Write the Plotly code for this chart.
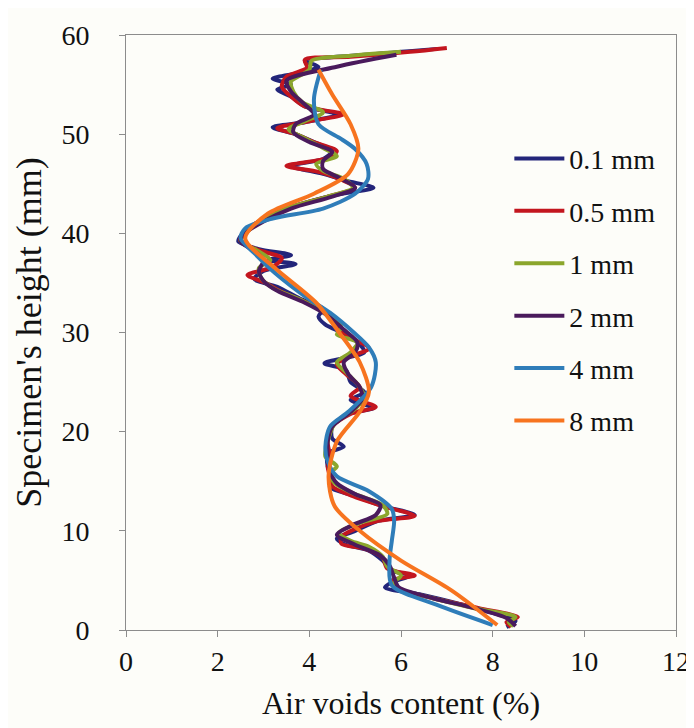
import plotly.graph_objects as go

# ---------------- data ----------------
series_names = ["0.1 mm", "0.5 mm", "1 mm", "2 mm", "4 mm", "8 mm"]

h_01 = [58.6, 58.0, 57.4, 56.8, 56.2, 55.6, 55.0, 54.5, 53.8, 52.8, 52.0, 51.2, 50.7, 50.0, 49.2, 48.3,
        47.5, 46.8, 46.0, 45.3, 44.6, 43.8, 42.5, 41.2, 40.0, 39.2, 38.4, 37.8, 37.3, 36.9, 36.2, 35.4,
        34.6, 33.4, 32.4, 31.6, 30.8, 29.8, 28.8, 28.0, 26.9, 26.2, 25.0, 24.0, 23.2, 22.4, 21.7, 20.5,
        19.3, 18.5, 17.8, 16.5, 15.2, 14.4, 13.5, 12.5, 11.6, 11.0, 10.0, 9.2, 8.6, 8.0, 7.0, 6.0,
        5.5, 4.8, 4.3, 3.6, 2.6, 1.6, 0.9, 0.3]
v_01 = [6.8, 5.2, 3.9, 4.2, 3.8, 3.2, 3.6, 3.3, 3.6, 3.9, 4.6, 3.9, 3.2, 3.7, 4.1, 4.5,
        4.3, 3.6, 4.3, 4.8, 5.4, 4.5, 3.5, 2.9, 2.55, 2.45, 2.9, 3.6, 3.1, 3.7, 3.0, 2.8,
        3.3, 3.8, 4.3, 4.2, 4.35, 4.8, 5.1, 5.2, 4.33, 4.8, 4.9, 5.2, 4.9, 5.4, 4.8, 4.5,
        4.5, 4.75, 4.4, 4.4, 4.5, 4.45, 5.0, 5.6, 6.3, 5.5, 5.0, 4.6, 4.8, 5.3, 5.6, 5.8,
        6.2, 5.8, 5.65, 6.4, 7.3, 8.1, 8.5, 8.3]

h_05 = [58.7, 58.3, 57.8, 57.5, 56.7, 55.8, 54.8, 53.8, 52.8, 52.0, 51.3, 50.6, 50.0, 49.2, 48.3, 47.6,
        46.8, 46.2, 45.4, 44.6, 43.7, 42.5, 41.2, 40.0, 39.2, 38.3, 37.5, 36.6, 35.8, 35.0, 34.2, 33.0,
        31.7, 30.6, 29.5, 28.4, 27.6, 26.8, 25.8, 24.5, 23.6, 22.5, 21.8, 20.5, 19.0, 17.5, 16.5, 15.5,
        14.5, 13.5, 12.5, 11.5, 11.0, 10.2, 9.4, 8.7, 8.2, 7.3, 6.2, 5.5, 5.0, 4.2, 3.2, 2.2,
        1.3, 0.8, 0.3]
v_05 = [7.0, 6.2, 4.9, 3.9, 3.95, 3.5, 3.4, 3.6, 3.9, 4.75, 4.0, 3.3, 3.7, 4.1, 4.6, 4.4,
        3.5, 4.2, 4.7, 5.0, 4.4, 3.5, 2.9, 2.55, 2.5, 2.9, 3.4, 3.2, 2.65, 3.05, 3.35, 3.95,
        4.45, 4.6, 4.9, 5.3, 4.9, 4.6, 4.8, 5.1, 4.9, 5.45, 4.9, 4.5, 4.4, 4.45, 4.4, 4.45,
        4.5, 4.95, 5.6, 6.3, 5.5, 5.0, 4.7, 4.7, 5.2, 5.6, 5.7, 6.3, 5.8, 5.9, 6.7, 7.7,
        8.55, 8.3, 8.4]

h_1 = [58.3, 57.9, 57.4, 56.5, 55.3, 54.3, 53.2, 52.2, 51.3, 50.5, 49.6, 48.6, 47.8, 47.0, 46.3, 45.5,
       44.6, 43.7, 42.5, 41.2, 40.0, 39.2, 38.3, 37.3, 36.5, 35.5, 34.5, 33.2, 31.8, 30.5, 29.8, 29.0,
       28.0, 27.0, 26.0, 24.8, 23.5, 22.3, 20.8, 19.0, 17.5, 16.5, 15.8, 14.8, 13.7, 12.6, 11.7, 10.8,
       9.8, 9.0, 8.4, 7.4, 6.4, 5.5, 4.8, 4.2, 3.2, 2.2, 1.3, 0.8, 0.4]
v_1 = [6.0, 4.9, 4.05, 4.0, 3.6, 3.65, 3.85, 4.3, 3.9, 3.55, 3.9, 4.3, 4.6, 4.15, 4.3, 4.75,
       4.95, 4.4, 3.5, 2.95, 2.6, 2.5, 2.85, 3.15, 2.9, 2.95, 3.2, 3.85, 4.4, 4.7, 4.6, 5.05,
       4.9, 4.6, 4.8, 5.05, 5.2, 5.0, 4.55, 4.4, 4.35, 4.6, 4.45, 4.55, 5.0, 5.6, 5.7, 5.1,
       4.65, 4.9, 5.3, 5.6, 5.7, 6.0, 5.85, 5.95, 6.7, 7.6, 8.5, 8.35, 8.45]

h_2 = [58.0, 56.8, 55.4, 54.3, 53.0, 52.0, 51.0, 50.2, 49.2, 48.2, 47.3, 46.5, 45.5, 44.6, 43.7, 42.5,
       41.2, 40.0, 39.2, 38.2, 37.3, 36.2, 35.2, 34.2, 33.0, 31.7, 30.3, 29.0, 28.0, 27.0, 25.8, 24.5,
       23.3, 22.0, 20.5, 19.0, 17.5, 16.0, 14.8, 13.7, 12.6, 11.6, 10.6, 9.6, 8.6, 7.5, 6.5, 5.3,
       4.3, 3.2, 2.2, 1.2, 0.4]
v_2 = [5.9, 4.6, 3.5, 3.6, 3.9, 4.1, 3.7, 3.65, 4.0, 4.5, 4.3, 4.3, 4.7, 5.0, 4.5, 3.6,
       3.0, 2.6, 2.5, 2.8, 3.0, 2.9, 3.0, 3.3, 3.9, 4.4, 4.75, 5.05, 5.0, 4.75, 4.85, 5.1,
       5.15, 4.9, 4.5, 4.4, 4.4, 4.45, 4.6, 5.0, 5.55, 5.45, 4.95, 4.6, 5.0, 5.55, 5.75, 5.85,
       5.95, 6.7, 7.6, 8.3, 8.5]

h_4 = [56.5, 53.5, 51.0, 49.5, 48.5, 47.0, 45.5, 44.0, 42.5, 41.5, 40.5, 39.5, 38.0, 36.0, 33.5, 32.0,
       30.0, 28.5, 27.0, 24.5, 22.0, 20.5, 18.5, 17.0, 15.5, 14.0, 12.2, 11.0, 9.0, 7.0, 4.5, 2.5, 0.5]
v_4 = [4.25, 4.1, 4.2, 4.7, 5.0, 5.25, 5.28, 5.0, 4.3, 3.2, 2.6, 2.5, 2.8, 3.25, 3.95, 4.45,
       4.97, 5.3, 5.45, 5.35, 4.85, 4.45, 4.35, 4.4, 4.6, 5.3, 5.8, 5.85, 5.8, 5.75, 5.8, 6.8, 8.0]

h_8 = [56.5, 54.0, 51.0, 48.5, 46.0, 44.0, 42.0, 39.5, 36.5, 33.0, 30.0, 27.0, 24.0, 22.0, 19.0, 15.5,
       12.5, 10.0, 7.0, 4.0, 0.5]
v_8 = [4.2, 4.5, 4.9, 5.07, 4.85, 4.1, 3.1, 2.6, 3.25, 4.15, 4.65, 5.1, 5.3, 5.1, 4.6, 4.42,
       4.55, 5.1, 6.0, 7.1, 8.1]

x_ticks = [0, 2, 4, 6, 8, 10, 12]
y_ticks = [0, 10, 20, 30, 40, 50, 60]

# ---------------- styling ----------------
colors = ["#23257a", "#c3161f", "#8ba62c", "#4a1a5c", "#2f7db9", "#f7741f"]
heights = [h_01, h_05, h_1, h_2, h_4, h_8]
voids = [v_01, v_05, v_1, v_2, v_4, v_8]

SERIF = "Liberation Serif"
BG = "#fdfdf9"
AX = "#8c8c8c"
TXT = "#111111"

fig = go.Figure()
for name, hv, vv, c in zip(series_names, heights, voids, colors):
    fig.add_trace(go.Scatter(
        x=vv, y=hv, mode="lines", name=name, legendgroup=name,
        line=dict(color=c, width=4, shape="spline", smoothing=0.8),
    ))

fig.update_layout(
    width=694, height=728,
    margin=dict(l=118, r=24, t=20, b=106),
    paper_bgcolor=BG, plot_bgcolor=BG,
    font=dict(family=SERIF, color=TXT, size=26),
    showlegend=True,
    legend=dict(
        x=0.697, y=0.834, xanchor="left", yanchor="top",
        bgcolor="rgba(0,0,0,0)", font=dict(family=SERIF, size=28, color=TXT),
        tracegroupgap=13, itemwidth=50,
    ),
)
fig.update_xaxes(
    range=[0, 12], tickvals=x_ticks, ticktext=[str(t) for t in x_ticks],
    showgrid=False, zeroline=False, showline=True, linecolor=AX, linewidth=1, mirror=True,
    ticks="outside", ticklen=6, tickcolor=AX, tickfont=dict(family=SERIF, size=28, color=TXT),
    title=dict(text="Air voids content (%)", font=dict(family=SERIF, size=32, color=TXT), standoff=16),
)
fig.update_yaxes(
    range=[0, 60], tickvals=y_ticks, ticktext=[str(t) for t in y_ticks],
    showgrid=False, zeroline=False, showline=True, linecolor=AX, linewidth=1, mirror=True,
    ticks="outside", ticklen=6, tickcolor=AX, ticklabelstandoff=24,
    tickfont=dict(family=SERIF, size=28, color=TXT),
    title=dict(text="Specimen's height (mm)", font=dict(family=SERIF, size=36, color=TXT), standoff=8),
)

fig.write_html("out.html")
